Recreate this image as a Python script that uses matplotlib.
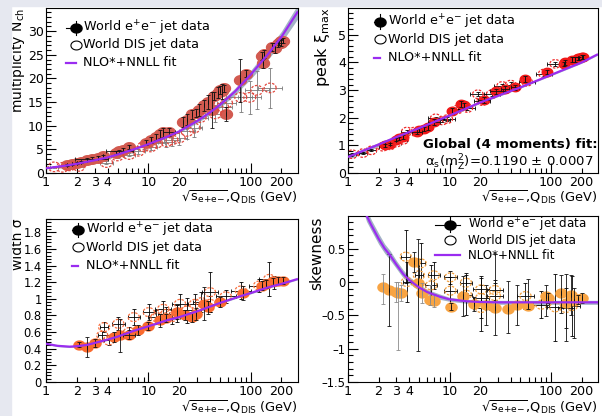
import numpy as np
import matplotlib
matplotlib.use('Agg')
import matplotlib.pyplot as plt
from matplotlib.path import Path
from matplotlib.markers import MarkerStyle
from matplotlib.lines import Line2D
from matplotlib.patches import Rectangle
from matplotlib.ticker import FixedLocator, MultipleLocator, FuncFormatter

plt.rcParams['font.family'] = 'DejaVu Sans'
plt.rcParams['mathtext.fontset'] = 'dejavusans'

# ---- multiplicity N_ch
mult_ee_x = [1.6, 1.8, 2.0, 2.2, 2.5, 2.8, 3.2, 3.6, 4.8, 5.2, 5.6, 6.4, 9.5, 10.5, 12.0, 13.0, 14.0, 16.0,
             22.0, 24.0, 27.0, 29.0, 31.0, 35.0, 38.0, 42.0, 44.0, 48.0, 50.0, 52.0, 55.0, 58.0, 78.0, 91.0,
             130.0, 133.0, 136.0, 161.0, 172.0, 183.0, 189.0, 196.0, 200.0, 206.0]
mult_ee_y = [1.6, 1.8, 2.1, 2.4, 2.8, 3.0, 3.2, 3.5, 4.3, 4.6, 4.8, 5.5, 6.4, 7.0, 7.6, 8.2, 8.6, 8.7,
             10.8, 11.3, 12.4, 12.7, 13.3, 14.3, 15.0, 13.3, 16.3, 17.0, 17.6, 17.3, 17.9, 12.5, 19.6, 21.0,
             24.8, 23.2, 25.2, 26.6, 26.4, 27.3, 27.6, 27.5, 27.9, 28.0]
mult_ee_err = [0.2, 0.2, 0.2, 0.2, 0.3, 0.3, 0.3, 0.3, 0.3, 0.3, 0.4, 0.4, 0.5, 0.6, 0.6, 0.8, 1.0, 0.8,
               1.0, 1.2, 1.0, 0.8, 1.2, 1.2, 1.4, 3.8, 0.8, 1.2, 0.8, 1.6, 0.8, 1.5, 4.5, 0.8,
               0.8, 1.0, 0.8, 0.8, 1.0, 0.6, 0.5, 0.6, 0.5, 0.5]
mult_ee_xf = [1.0, 1.0, 1.0, 1.0, 1.0, 1.45, 1.0, 1.0, 1.0, 1.35, 1.0, 1.0, 1.0, 1.0, 1.0, 1.0, 1.0, 1.15,
              1.0, 1.0, 1.0, 1.0, 1.0, 1.0, 1.0, 1.0, 1.0, 1.0, 1.0, 1.0, 1.0, 1.0, 1.0, 1.0,
              1.0, 1.0, 1.0, 1.0, 1.0, 1.0, 1.0, 1.0, 1.0, 1.0]
mult_dis_x = [1.2, 1.45, 1.7, 2.1, 3.9, 5.0, 6.5, 8.0, 9.0, 10.5, 12.0, 15.0, 17.0, 20.0, 24.0, 28.0,
              32.0, 45.0, 53.0, 58.0, 80.0, 98.0, 115.0, 155.0]
mult_dis_y = [1.3, 1.2, 1.5, 1.4, 2.2, 3.6, 3.9, 4.6, 5.6, 5.5, 6.3, 6.6, 7.0, 7.4, 8.8, 9.5,
              11.7, 12.5, 14.0, 14.8, 16.0, 16.0, 17.5, 18.0]
mult_dis_err = [0.2, 0.2, 0.2, 0.2, 0.3, 0.4, 0.4, 0.5, 0.6, 0.6, 0.8, 1.0, 1.2, 1.4, 1.6, 1.8,
                2.0, 1.8, 2.2, 2.8, 3.0, 3.5, 4.0, 4.3]
mult_dis_xf = [1.1, 1.1, 1.1, 1.1, 1.15, 1.15, 1.15, 1.15, 1.15, 1.15, 1.2, 1.2, 1.2, 1.2, 1.2, 1.2,
               1.2, 1.25, 1.25, 1.25, 1.3, 1.3, 1.3, 1.3]
mult_fit_x = [1, 1.5, 2, 3, 4, 5, 7, 10, 15, 20, 30, 40, 50, 70, 100, 150, 200, 290]
mult_fit_y = [1.0, 1.5, 1.95, 2.7, 3.3, 3.9, 4.9, 6.1, 7.6, 8.8, 11.0, 12.8, 14.4, 17.2, 20.8, 25.3, 28.8, 34.2]
mult_fit_band = [0.05, 0.05, 0.05, 0.1, 0.1, 0.1, 0.15, 0.2, 0.25, 0.3, 0.4, 0.5, 0.6, 0.7, 0.9, 1.1, 1.2, 1.5]

# ---- peak position xi_max
peak_ee_x = [2.3, 2.6, 3.0, 3.2, 3.5, 4.8, 5.0, 5.6, 6.2, 7.0, 10.5, 13.0, 14.0, 22.0, 29.0, 35.0, 44.0,
             55.0, 91.0, 133.0, 136.0, 161.0, 172.0, 183.0, 189.0, 200.0, 206.0]
peak_ee_y = [1.0, 1.05, 1.2, 1.25, 1.3, 1.5, 1.55, 1.6, 1.65, 1.85, 2.25, 2.5, 2.45, 2.65, 2.95, 3.05, 3.1,
             3.4, 3.65, 3.95, 4.0, 4.1, 4.1, 4.15, 4.15, 4.2, 4.2]
peak_ee_err = [0.05, 0.05, 0.06, 0.06, 0.06, 0.08, 0.08, 0.08, 0.08, 0.1, 0.1, 0.1, 0.1, 0.1, 0.1, 0.1, 0.1,
               0.1, 0.06, 0.08, 0.08, 0.08, 0.08, 0.06, 0.06, 0.06, 0.06]
peak_ee_xf = [1.0, 1.0, 1.0, 1.0, 1.0, 1.12, 1.0, 1.0, 1.0, 1.15, 1.0, 1.0, 1.0, 1.15, 1.15, 1.1, 1.1,
              1.0, 1.0, 1.0, 1.0, 1.0, 1.0, 1.0, 1.0, 1.0, 1.0]
peak_dis_x = [1.1, 1.4, 1.7, 2.2, 2.6, 3.0, 3.5, 3.8, 4.5, 7.3, 8.5, 9.5, 12.0, 15.0, 19.0, 21.0, 26.0,
              33.0, 40.0, 58.0, 85.0, 110.0]
peak_dis_y = [0.68, 0.72, 0.82, 0.95, 1.0, 1.1, 1.2, 1.5, 1.5, 1.98, 1.9, 1.95, 2.3, 2.35, 2.85, 2.6, 2.85,
              3.15, 3.2, 3.3, 3.6, 3.95]
peak_dis_err = [0.04, 0.04, 0.04, 0.05, 0.05, 0.05, 0.05, 0.06, 0.06, 0.06, 0.06, 0.06, 0.07, 0.07, 0.07,
                0.07, 0.07, 0.08, 0.08, 0.08, 0.08, 0.08]
peak_dis_xf = [1.1, 1.1, 1.1, 1.1, 1.1, 1.1, 1.1, 1.15, 1.15, 1.2, 1.2, 1.2, 1.2, 1.2, 1.2, 1.2, 1.2,
               1.2, 1.2, 1.2, 1.2, 1.2]
peak_fit_x = [1, 2, 3, 5, 10, 20, 50, 100, 200, 290]
peak_fit_y = [0.58, 1.03, 1.3, 1.62, 2.08, 2.55, 3.1, 3.55, 4.0, 4.3]
peak_fit_band = [0.08, 0.07, 0.06, 0.05, 0.04, 0.03, 0.03, 0.03, 0.03, 0.03]

# ---- width sigma
width_ee_x = [2.1, 2.5, 3.0, 4.6, 5.3, 6.5, 8.0, 10.0, 13.0, 15.0, 19.0, 23.0, 27.0, 29.0, 35.0, 38.0,
              50.0, 85.0, 130.0, 140.0, 165.0, 185.0, 206.0]
width_ee_y = [0.45, 0.42, 0.47, 0.54, 0.56, 0.57, 0.62, 0.67, 0.74, 0.77, 0.84, 0.80, 0.78, 0.82, 0.94, 0.90,
              0.96, 1.07, 1.16, 1.18, 1.21, 1.22, 1.22]
width_ee_err = [0.03, 0.12, 0.05, 0.06, 0.2, 0.05, 0.06, 0.05, 0.08, 0.05, 0.08, 0.06, 0.06, 0.07, 0.2, 0.08,
                0.06, 0.08, 0.05, 0.05, 0.04, 0.04, 0.04]
width_ee_xf = [1.0, 1.0, 1.0, 1.0, 1.0, 1.15, 1.0, 1.0, 1.0, 1.0, 1.0, 1.0, 1.0, 1.0, 1.0, 1.0,
               1.0, 1.0, 1.0, 1.0, 1.0, 1.0, 1.0]
width_dis_x = [3.55, 3.7, 4.1, 5.1, 6.5, 7.2, 10.1, 12.0, 14.0, 15.0, 17.0, 19.0, 20.4, 24.0, 28.6, 33.0,
               40.0, 40.0, 57.0, 80.0, 121.0, 152.0, 170.0]
width_dis_y = [0.56, 0.66, 0.50, 0.70, 0.60, 0.78, 0.84, 0.78, 0.88, 0.82, 0.78, 0.82, 0.94, 0.86, 0.94, 0.96,
               1.08, 0.94, 1.03, 1.10, 1.16, 1.24, 1.20]
width_dis_err = [0.05, 0.06, 0.06, 0.08, 0.06, 0.1, 0.1, 0.08, 0.1, 0.08, 0.08, 0.1, 0.12, 0.15, 0.12, 0.12,
                 0.24, 0.1, 0.08, 0.1, 0.08, 0.2, 0.08]
width_dis_xf = [1.1, 1.1, 1.1, 1.15, 1.15, 1.15, 1.15, 1.2, 1.2, 1.2, 1.2, 1.2, 1.2, 1.2, 1.2, 1.2,
                1.2, 1.2, 1.25, 1.25, 1.25, 1.25, 1.25]
width_fit_x = [1, 1.3, 1.7, 2, 2.5, 3, 4, 5, 7, 10, 15, 20, 30, 50, 70, 100, 150, 200, 290]
width_fit_y = [0.46, 0.435, 0.425, 0.43, 0.445, 0.47, 0.51, 0.545, 0.61, 0.67, 0.74, 0.78, 0.85, 0.95,
               1.01, 1.07, 1.14, 1.18, 1.24]
width_fit_band = [0.01, 0.01, 0.01, 0.01, 0.01, 0.01, 0.01, 0.01, 0.01, 0.01, 0.01, 0.01, 0.01, 0.01,
                  0.01, 0.01, 0.01, 0.01, 0.01]

# ---- skewness
skew_ee_x = [2.2, 2.55, 2.95, 3.1, 3.3, 4.5, 4.9, 5.4, 6.4, 7.0, 10.3, 13.5, 17.5, 23.0, 28.0, 38.0, 46.0,
             59.0, 89.0, 94.0, 125.0, 140.0, 158.0, 170.0, 185.0, 200.0]
skew_ee_y = [-0.07, -0.12, -0.15, -0.16, -0.17, 0.30, -0.01, -0.17, -0.27, -0.28, -0.37, -0.21, -0.33, -0.34,
             -0.39, -0.40, -0.34, -0.36, -0.21, -0.24, -0.16, -0.31, -0.19, -0.29, -0.26, -0.24]
skew_ee_lo = [0.26, 0.54, 0.15, 0.86, 0.12, 0.15, 1.02, 0.15, 0.08, 0.10, 0.05, 0.30, 0.10, 0.30, 0.40,
              0.36, 0.30, 0.05, 0.30, 0.08, 0.30, 0.58, 0.30, 0.55, 0.07, 0.07]
skew_ee_hi = [0.19, 0.54, 0.15, 0.16, 0.12, 0.15, 0.66, 0.15, 0.22, 0.10, 0.05, 0.30, 0.10, 0.30, 0.81,
              0.42, 0.30, 0.40, 0.16, 0.08, 0.26, 0.43, 0.30, 0.20, 0.07, 0.07]
skew_ee_xf = [1.0, 1.0, 1.0, 1.0, 1.0, 1.0, 1.0, 1.0, 1.0, 1.0, 1.0, 1.0, 1.0, 1.0, 1.0, 1.0, 1.0,
              1.0, 1.0, 1.0, 1.0, 1.0, 1.0, 1.0, 1.0, 1.0]
skew_ee_grey = [True, False, True, True, True, False, False, True, True, True, False, False, False, False,
                False, False, False, False, False, False, False, False, False, False, False, False]
skew_dis_x = [3.7, 3.8, 5.2, 5.0, 7.0, 6.6, 10.2, 10.2, 14.5, 14.5, 20.5, 20.5, 20.5, 28.0, 28.0, 56.0,
              80.0, 110.0, 140.0, 160.0]
skew_dis_y = [0.38, 0.0, 0.28, 0.10, 0.10, -0.05, 0.07, -0.13, -0.01, -0.19, -0.11, -0.24, -0.39, -0.12,
              -0.21, -0.21, -0.34, -0.38, -0.39, -0.36]
skew_dis_err = [0.40, 0.30, 0.30, 0.25, 0.20, 0.30, 0.10, 0.20, 0.15, 0.30, 0.20, 0.30, 0.35, 0.15,
                0.20, 0.20, 0.20, 0.50, 0.30, 0.45]
skew_dis_xf = [1.1, 1.1, 1.1, 1.1, 1.15, 1.15, 1.15, 1.15, 1.15, 1.15, 1.2, 1.2, 1.2, 1.2, 1.2, 1.2,
               1.2, 1.2, 1.2, 1.2]
skew_fit_x = [1.45, 1.52, 1.7, 2.0, 2.3, 2.6, 3.0, 3.5, 4, 5, 6, 8, 10, 15, 20, 30, 50, 100, 290]
skew_fit_y = [1.1, 1.0, 0.85, 0.65, 0.5, 0.4, 0.26, 0.12, 0.03, -0.08, -0.15, -0.22, -0.26, -0.29, -0.30,
              -0.305, -0.305, -0.305, -0.305]
skew_fit_band = [0.09, 0.09, 0.08, 0.08, 0.07, 0.07, 0.06, 0.06, 0.05, 0.05, 0.04, 0.04, 0.03, 0.03, 0.03,
                 0.03, 0.03, 0.03, 0.03]

FIT_COLOR = '#9a2cf0'
BAND_COLOR = '#a3b3c6'
XLABEL = r'$\sqrt{\mathrm{s}_{\mathrm{e{+}e{-}}}}$,Q$_{\mathrm{DIS}}$ (GeV)'

# slightly flattened circle, the panels are stretched sideways
t = np.linspace(0, 2 * np.pi, 61)
ellipse = MarkerStyle(Path(np.column_stack([np.cos(t), 0.8 * np.sin(t)]), closed=True))


def xErr(x, xf):
    x = np.asarray(x, float)
    xf = np.asarray(xf, float)
    return [x - x / xf, x * xf - x]


def styleAxis(ax, ylim, major, minor, ylabel, ylabel_size, ylabel_x, ticksize=9, xlabel_y=-0.145, ypad=1.5):
    ax.set_xscale('log')
    ax.set_xlim(1, 290)
    ax.set_ylim(*ylim)
    ax.xaxis.set_major_locator(FixedLocator([1, 10, 100]))
    ax.xaxis.set_minor_locator(FixedLocator([2, 3, 4, 5, 6, 7, 8, 9, 20, 30, 40, 50, 60, 70, 80, 90, 200]))
    ax.xaxis.set_major_formatter(FuncFormatter(lambda v, p: '%g' % v))
    ax.xaxis.set_minor_formatter(FuncFormatter(lambda v, p: '%g' % v if round(v) in (2, 3, 4, 20, 200) else ''))
    ax.yaxis.set_major_locator(MultipleLocator(major))
    ax.yaxis.set_minor_locator(MultipleLocator(minor))
    ax.yaxis.set_major_formatter(FuncFormatter(lambda v, p: ('%g' % round(v, 3)).replace('-', '\u2013')))
    ax.tick_params(which='both', direction='in', top=False, right=False, width=0.8)
    ax.tick_params(axis='x', which='both', labelsize=9.2, pad=2.0)
    ax.tick_params(axis='y', which='both', labelsize=ticksize, pad=ypad)
    ax.tick_params(which='major', length=7)
    ax.tick_params(which='minor', length=3.5)
    for s in ax.spines.values():
        s.set_linewidth(0.8)
    ax.text(ylabel_x, 1.0, ylabel, transform=ax.transAxes, rotation=90, ha='center', va='top',
            fontsize=ylabel_size)
    ax.text(1.0, xlabel_y, XLABEL, transform=ax.transAxes, ha='right', va='center', fontsize=9.3)


def drawMoment(ax, ee, dis, fit, fill, edge, ms=8.0, ee_grey=None, dis_ecolor='k'):
    ee_x, ee_y, ee_lo, ee_hi, ee_xf = [np.asarray(a, float) for a in ee]
    dis_x, dis_y, dis_err, dis_xf = [np.asarray(a, float) for a in dis]
    fit_x, fit_y, fit_band = [np.asarray(a, float) for a in fit]

    ax.fill_between(fit_x, fit_y - fit_band, fit_y + fit_band, color=BAND_COLOR, lw=0, zorder=1)

    ax.plot(ee_x, ee_y, ls='none', marker=ellipse, ms=ms, color=fill, zorder=3)
    grey = np.zeros(len(ee_x), bool) if ee_grey is None else np.asarray(ee_grey)
    for mask, col in ((~grey, '#111111'), (grey, '#8a8a8a')):
        if mask.any():
            ax.errorbar(ee_x[mask], ee_y[mask], yerr=[ee_lo[mask], ee_hi[mask]],
                        xerr=xErr(ee_x[mask], ee_xf[mask]), fmt='none', ecolor=col,
                        elinewidth=0.6, capsize=1.2, capthick=0.6, zorder=3.5)

    ax.errorbar(dis_x, dis_y, yerr=dis_err, xerr=xErr(dis_x, dis_xf), fmt='none', ecolor=dis_ecolor,
                elinewidth=0.6, capsize=1.2, capthick=0.6, zorder=2)
    ax.scatter(dis_x, dis_y, s=ms ** 2, marker=ellipse, facecolors='none', edgecolors=edge,
               linewidths=0.9, linestyle=(0, (2, 1.2)), zorder=3)

    ax.plot(fit_x, fit_y, color=FIT_COLOR, lw=1.6, zorder=4, solid_capstyle='butt')


def drawKey(ax, x0, xm, x1, tx, rows, fontsize=9.2):
    # ROOT-like legend: point with error bar, open point, fit line
    tr = ax.transAxes
    y1, y2, y3 = rows
    ax.add_line(Line2D([x0, x1], [y1, y1], color='k', lw=0.8, transform=tr, clip_on=False))
    ax.add_line(Line2D([xm, xm], [y1 - 0.045, y1 + 0.045], color='k', lw=0.8, transform=tr, clip_on=False))
    ax.add_line(Line2D([xm], [y1], marker=ellipse, ms=8, color='k', ls='none', transform=tr, clip_on=False))
    ax.add_line(Line2D([xm], [y2], marker=ellipse, ms=8, mfc='none', mec='k', mew=0.8, ls='none',
                       transform=tr, clip_on=False))
    ax.add_line(Line2D([x0, x1], [y3, y3], color=FIT_COLOR, lw=1.6, transform=tr, clip_on=False))
    ax.text(tx, y1, 'World e$^{+}$e$^{-}$ jet data', transform=tr, va='center', fontsize=fontsize)
    ax.text(tx, y2, 'World DIS jet data', transform=tr, va='center', fontsize=fontsize)
    ax.text(tx, y3, 'NLO*+NNLL fit', transform=tr, va='center', fontsize=fontsize)


fig = plt.figure(figsize=(6.02, 4.16), dpi=100)
fig.patches.append(Rectangle((0, 0), 11 / 602, 1, transform=fig.transFigure, color='#e6e8f0', zorder=0))
fig.patches.append(Rectangle((0, 1 - 6 / 416), 1, 6 / 416, transform=fig.transFigure, color='#e6e8f0', zorder=0))

ax_mult = fig.add_axes([46 / 602, 243 / 416, 252 / 602, 165 / 416])
ax_peak = fig.add_axes([348 / 602, 243 / 416, 250 / 602, 165 / 416])
ax_width = fig.add_axes([46 / 602, 34 / 416, 252 / 602, 163 / 416])
ax_skew = fig.add_axes([348 / 602, 34 / 416, 250 / 602, 166 / 416])

drawMoment(ax_mult,
           (mult_ee_x, mult_ee_y, mult_ee_err, mult_ee_err, mult_ee_xf),
           (mult_dis_x, mult_dis_y, mult_dis_err, mult_dis_xf),
           (mult_fit_x, mult_fit_y, mult_fit_band),
           fill='#d25a50', edge='#e0483f', dis_ecolor='#7a7a7a', ms=8.6)
styleAxis(ax_mult, (0, 34.9), 5, 1, 'multiplicity N$_{\\mathrm{ch}}$', 10, -0.112)
drawKey(ax_mult, 0.079, 0.119, 0.119, 0.147, (0.879, 0.776, 0.667))

drawMoment(ax_peak,
           (peak_ee_x, peak_ee_y, peak_ee_err, peak_ee_err, peak_ee_xf),
           (peak_dis_x, peak_dis_y, peak_dis_err, peak_dis_xf),
           (peak_fit_x, peak_fit_y, peak_fit_band),
           fill='#f01818', edge='#f02a2a', ms=7.6)
styleAxis(ax_peak, (0, 5.97), 1, 0.2, 'peak \u03be$_{\\mathrm{max}}$', 11.5, -0.1)
drawKey(ax_peak, 0.104, 0.128, 0.128, 0.16, (0.917, 0.81, 0.70))
ax_peak.text(0.998, 0.17, 'Global (4 moments) fit:', transform=ax_peak.transAxes, ha='right', va='center',
             fontsize=9.5, fontweight='bold')
ax_peak.text(0.98, 0.06, '\u03b1$_{\\mathrm{s}}$(m$_{\\mathrm{Z}}^{2}$)=0.1190 \u00b1 0.0007',
             transform=ax_peak.transAxes, ha='right', va='center', fontsize=9.5)

drawMoment(ax_width,
           (width_ee_x, width_ee_y, width_ee_err, width_ee_err, width_ee_xf),
           (width_dis_x, width_dis_y, width_dis_err, width_dis_xf),
           (width_fit_x, width_fit_y, width_fit_band),
           fill='#fa6a2e', edge='#fa7040')
styleAxis(ax_width, (0, 1.96), 0.2, 0.04, 'width \u03c3', 10, -0.112, ticksize=8.3, xlabel_y=-0.155, ypad=3.0)
drawKey(ax_width, 0.103, 0.127, 0.127, 0.159, (0.933, 0.827, 0.712))

drawMoment(ax_skew,
           (skew_ee_x, skew_ee_y, skew_ee_lo, skew_ee_hi, skew_ee_xf),
           (skew_dis_x, skew_dis_y, skew_dis_err, skew_dis_xf),
           (skew_fit_x, skew_fit_y, skew_fit_band),
           fill='#f8a443', edge='#f2a040', ee_grey=skew_ee_grey)
styleAxis(ax_skew, (-1.5, 0.99), 0.5, 0.1, 'skewness', 11, -0.125, ticksize=8.3, xlabel_y=-0.152)
drawKey(ax_skew, 0.348, 0.408, 0.448, 0.48, (0.948, 0.855, 0.765), fontsize=8.6)

fig.savefig('out.png', dpi=100, facecolor='white')
